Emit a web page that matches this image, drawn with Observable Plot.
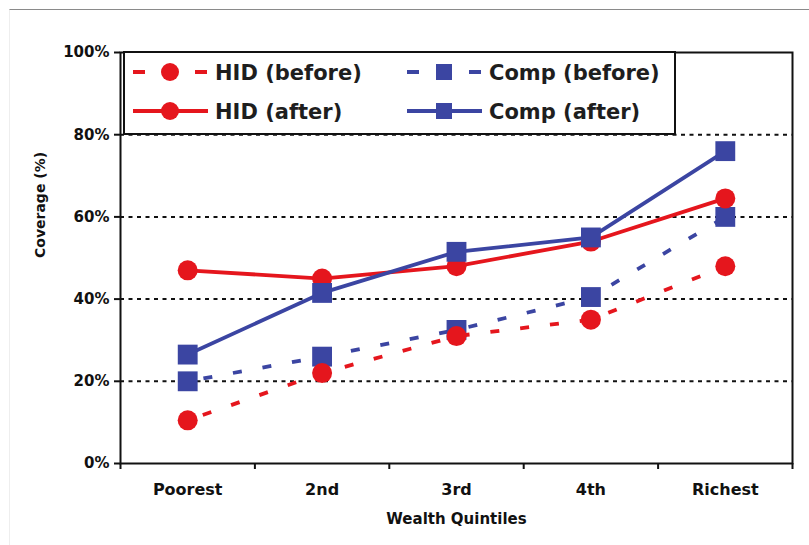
<!DOCTYPE html>
<html><head><meta charset="utf-8">
<script src="https://cdn.jsdelivr.net/npm/d3@7"></script>
<script src="https://cdn.jsdelivr.net/npm/@observablehq/plot@0.6"></script>
<style>
html,body{margin:0;padding:0;background:#fff;}
#wrap{position:relative;width:809px;height:545px;overflow:hidden;background:#fff;}
#edge{position:absolute;left:9px;top:9px;right:-2px;bottom:-2px;border-top:1.5px solid #8a8a8a;border-left:1px solid #eeeeee;}
#chart{position:absolute;left:0;top:0;}
</style></head><body>
<div id="wrap"><div id="edge"></div><div id="chart"></div></div>
<script>
const categories = ["Poorest", "2nd", "3rd", "4th", "Richest"];
const hidBefore  = [10.5, 22, 31, 35, 48];
const compBefore = [20, 26, 32.5, 40.5, 60];
const hidAfter   = [47, 45, 48, 54, 64.5];
const compAfter  = [26.5, 41.5, 51.5, 55, 76];
const yTicks = [0, 20, 40, 60, 80, 100];
const gridValues = [20, 40, 60, 80];
const seriesNames = ["HID (before)", "Comp (before)", "HID (after)", "Comp (after)"];
const xTitle = "Wealth Quintiles";
const yTitle = "Coverage (%)";

const RED = "#e5161d", BLUE = "#3b45a2";
const series = [
  {name: seriesNames[1], values: compBefore, color: BLUE, symbol: "square", dashed: true},
  {name: seriesNames[0], values: hidBefore,  color: RED,  symbol: "circle", dashed: true},
  {name: seriesNames[2], values: hidAfter,   color: RED,  symbol: "circle", dashed: false},
  {name: seriesNames[3], values: compAfter,  color: BLUE, symbol: "square", dashed: false}
];
const rowsOf = s => s.values.map((v, i) => ({series: s.name, cat: categories[i], xi: i + 0.5, v}));

const dataMarks = series.flatMap(s => [
  Plot.lineY(rowsOf(s), {x: "xi", y: "v", stroke: s.color, strokeWidth: 3.8,
    strokeLinecap: "butt", strokeLinejoin: "miter",
    strokeDasharray: s.dashed ? "9,21" : null, strokeDashoffset: s.dashed ? -16 : null}),
  Plot.dot(rowsOf(s), {x: "xi", y: "v", fill: s.color, stroke: "none",
    symbol: s.symbol, r: s.symbol === "square" ? 11.2 : 10})
]);

const boundaryTicks = d3.range(categories.length + 1);
const centerTicks = categories.map((c, i) => i + 0.5);

const plot = Plot.plot({
  width: 809, height: 545,
  marginLeft: 120, marginRight: 17, marginTop: 52, marginBottom: 82,
  x: {domain: [0, categories.length]},
  y: {domain: [0, 100]},
  style: {fontFamily: "DejaVu Sans", fontWeight: "bold", fontSize: "15px", color: "#111", background: "transparent"},
  marks: [
    Plot.ruleY(gridValues, {stroke: "#111", strokeWidth: 2, strokeDasharray: "4,4.5"}),
    ...dataMarks,
    Plot.frame({stroke: "#111", strokeWidth: 2}),
    Plot.axisY({ticks: yTicks, tickFormat: d => d + "%", tickSize: 6, tickPadding: 5, strokeWidth: 2, fontSize: 15, label: null}),
    Plot.axisX({ticks: boundaryTicks, tickFormat: () => "", tickSize: 6, strokeWidth: 2, label: null}),
    Plot.axisX({ticks: centerTicks, tickFormat: d => categories[Math.floor(d)], tickSize: 0, tickPadding: 20, fontSize: 16, label: null}),
    Plot.text([xTitle], {frameAnchor: "bottom", dy: 60, fontSize: 15, fontWeight: "bold", fill: "#111"}),
    Plot.text([yTitle], {frameAnchor: "left", dx: -80, rotate: -90, fontSize: 14, fontWeight: "bold", fill: "#111"})
  ]
});
document.getElementById("chart").appendChild(plot);

// Legend inside plot area
const svg = d3.select(plot);
const lg = svg.append("g").attr("text-anchor", "start");
lg.append("rect").attr("x", 124).attr("y", 52).attr("width", 551).attr("height", 82)
  .attr("fill", "#fff").attr("stroke", "#111").attr("stroke-width", 2);
const legendItems = [
  {name: seriesNames[0], color: RED,  symbol: "circle", dashed: true,  col: 0, row: 0},
  {name: seriesNames[1], color: BLUE, symbol: "square", dashed: true,  col: 1, row: 0},
  {name: seriesNames[2], color: RED,  symbol: "circle", dashed: false, col: 0, row: 1},
  {name: seriesNames[3], color: BLUE, symbol: "square", dashed: false, col: 1, row: 1}
];
const colX = [133, 407], rowY = [72, 111];
legendItems.forEach(it => {
  const x0 = colX[it.col], y = rowY[it.row], cx = x0 + 37;
  const g = lg.append("g");
  if (it.dashed) {
    [[x0, x0 + 12], [x0 + 62, x0 + 74]].forEach(([a, b]) =>
      g.append("line").attr("x1", a).attr("x2", b).attr("y1", y).attr("y2", y)
        .attr("stroke", it.color).attr("stroke-width", 4));
  } else {
    g.append("line").attr("x1", x0).attr("x2", x0 + 75).attr("y1", y).attr("y2", y)
      .attr("stroke", it.color).attr("stroke-width", 4);
  }
  if (it.symbol === "circle") {
    g.append("circle").attr("cx", cx).attr("cy", y).attr("r", 9).attr("fill", it.color);
  } else {
    g.append("rect").attr("x", cx - 8).attr("y", y - 8).attr("width", 16).attr("height", 16).attr("fill", it.color);
  }
  g.append("text").attr("x", x0 + 82).attr("y", y).attr("dy", "0.36em")
    .attr("text-anchor", "start")
    .attr("font-family", "DejaVu Sans").attr("font-weight", "bold").attr("font-size", 21)
    .attr("fill", "#1e1e1e").text(it.name);
});
</script>
</body></html>
